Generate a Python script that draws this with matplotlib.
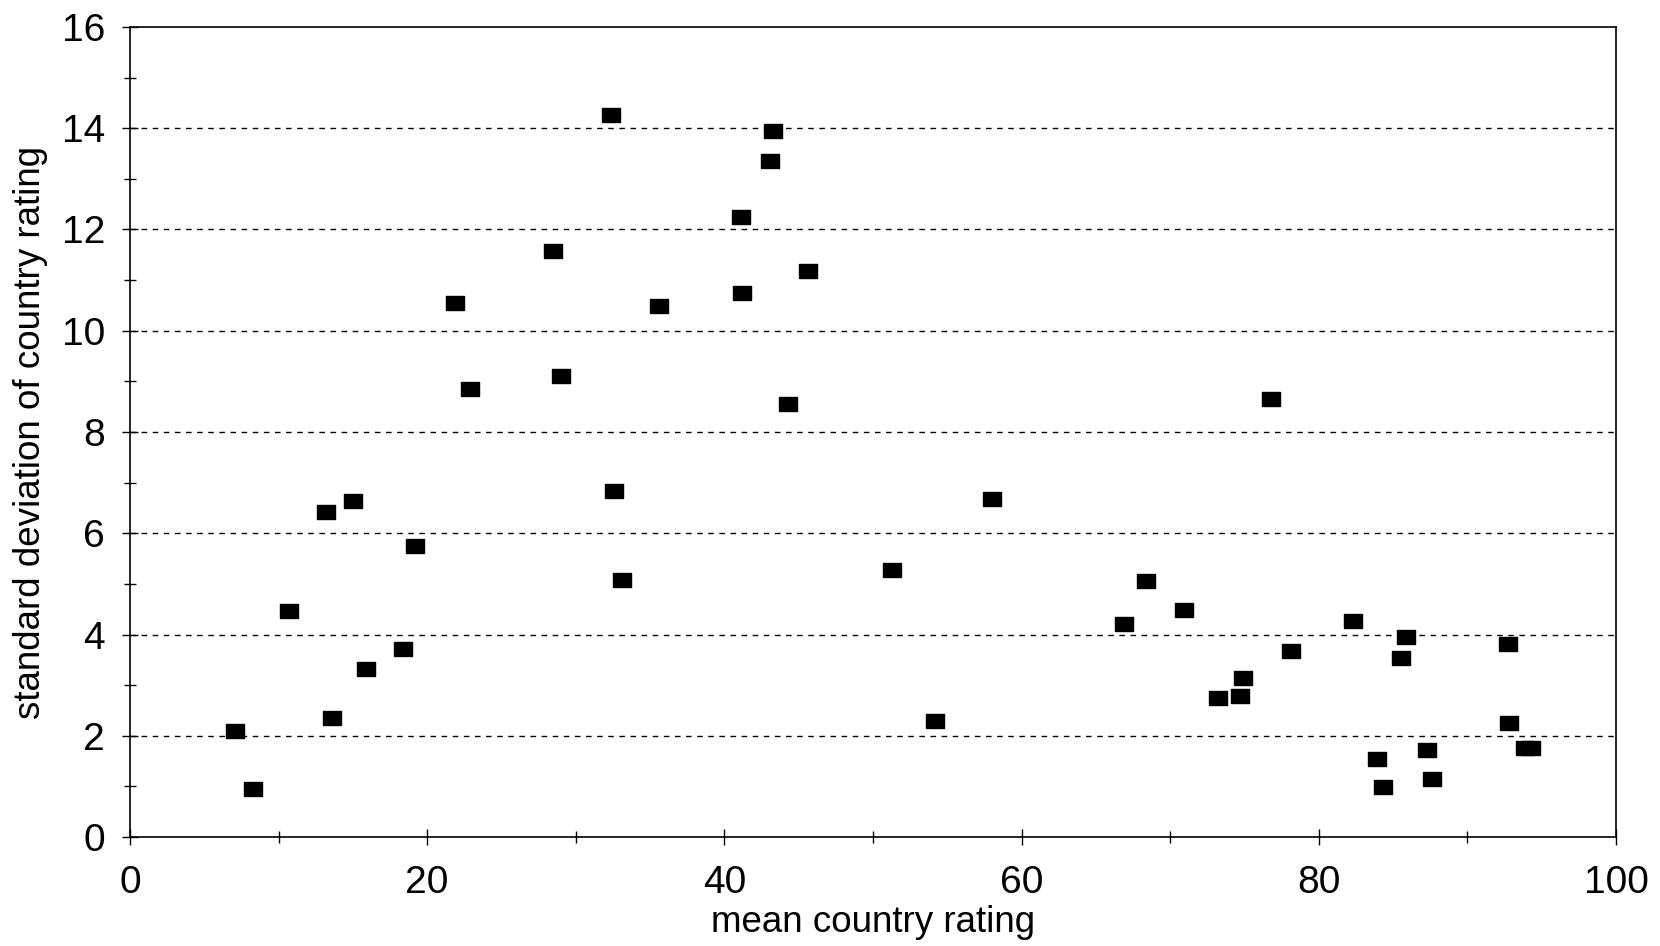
import numpy as np
import matplotlib
matplotlib.use('Agg')
import matplotlib.pyplot as plt
from matplotlib.ticker import MultipleLocator

plt.rcParams['font.family'] = ['Liberation Sans', 'DejaVu Sans']

# mean rating and standard deviation for each country
mean_rating = [7.1, 8.3, 10.7, 13.2, 13.6, 15.0, 15.9, 18.4, 19.2, 21.9,
               22.9, 28.5, 29.0, 32.4, 32.6, 33.1, 35.6, 41.1, 41.2, 43.1,
               43.3, 44.3, 45.6, 51.3, 54.2, 58.0, 66.9, 68.4, 70.9, 73.2,
               74.7, 74.9, 76.8, 78.1, 82.3, 83.9, 84.3, 85.5, 85.9, 87.3,
               87.6, 92.7, 92.8, 93.9, 94.3]
sd_rating = [2.09, 0.94, 4.46, 6.42, 2.36, 6.63, 3.31, 3.72, 5.75, 10.54,
             8.85, 11.57, 9.10, 14.27, 6.84, 5.08, 10.48, 12.24, 10.75, 13.35,
             13.95, 8.56, 11.17, 5.27, 2.30, 6.67, 4.21, 5.06, 4.48, 2.74,
             2.78, 3.14, 8.66, 3.68, 4.27, 1.55, 0.98, 3.54, 3.95, 1.72,
             1.15, 3.81, 2.26, 1.76, 1.76]

fig = plt.figure(figsize=(16.6, 9.46), dpi=100)
ax = fig.add_axes([0.0783, 0.1152, 0.8952, 0.8563])

# wide rectangle marker like the original
rect = [(-1, -0.75), (1, -0.75), (1, 0.75), (-1, 0.75), (-1, -0.75)]
ax.plot(mean_rating, sd_rating, linestyle='none', marker=rect,
        markersize=12.5, color='black', zorder=3)

ax.set_xlim(0, 100)
ax.set_ylim(0, 16)
ax.xaxis.set_major_locator(MultipleLocator(20))
ax.xaxis.set_minor_locator(MultipleLocator(10))
ax.yaxis.set_major_locator(MultipleLocator(2))
ax.yaxis.set_minor_locator(MultipleLocator(1))
ax.tick_params(which='both', direction='inout', labelsize=28, width=1,
               top=False, right=False)
ax.tick_params(which='major', length=12)
ax.tick_params(axis='x', which='major', pad=14)
ax.tick_params(axis='y', which='major', pad=12)
ax.tick_params(which='minor', length=8)

for y in range(2, 16, 2):
    ax.axhline(y, color='black', linestyle=(0, (4, 4)), linewidth=1, zorder=1)

for s in ax.spines.values():
    s.set_linewidth(1.2)

ax.set_xlabel('mean country rating', fontsize=26.5, labelpad=3)
ax.set_ylabel('standard deviation of country rating', fontsize=26.5, labelpad=10)

fig.savefig('out.png', dpi=100)
